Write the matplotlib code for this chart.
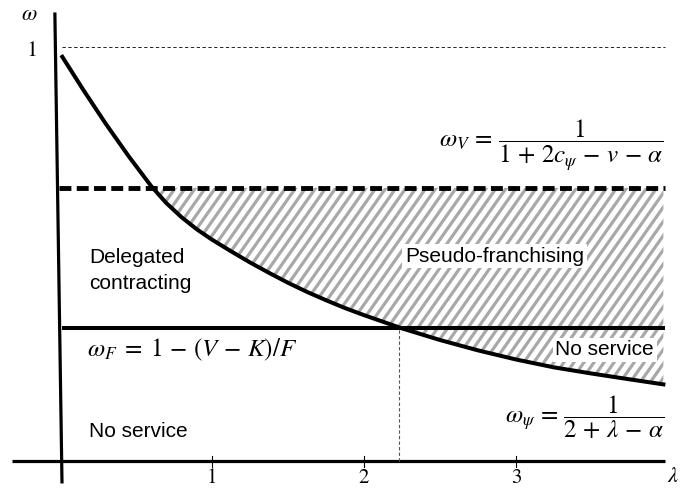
import matplotlib
matplotlib.use("Agg")
import matplotlib.pyplot as plt
import numpy as np
from matplotlib.collections import LineCollection

# Curve omega_psi (lambda, omega)
curve_lam = [0.015, 0.15, 0.30, 0.45, 0.60, 0.70, 0.80, 0.90, 1.00, 1.125, 1.25, 1.375,
             1.50, 1.625, 1.75, 1.875, 2.00, 2.25, 2.50, 2.75, 3.00, 3.25, 3.50, 3.75, 3.97]
curve_omega = [0.976, 0.898, 0.815, 0.737, 0.664, 0.623, 0.589, 0.560, 0.535, 0.507, 0.480, 0.455,
               0.431, 0.409, 0.389, 0.370, 0.353, 0.321, 0.293, 0.268, 0.246, 0.227, 0.212, 0.198, 0.186]

omega_V = 0.660      # dashed threshold
omega_F = 0.321      # solid threshold
lam_cross = 2.23     # where curve meets omega_F
lam_end = 3.98
x_ticks = [1, 2, 3]
x_tick_labels = ["1", "2", "3"]

plt.rcParams["font.family"] = ["Liberation Sans", "DejaVu Sans"]
plt.rcParams["mathtext.fontset"] = "stix"

fig = plt.figure(figsize=(6.81, 4.92), dpi=100)
ax = fig.add_axes([0, 0, 1, 1])
ax.set_xlim(-0.395, 4.086)
ax.set_ylim(-0.0736, 1.113)
ax.axis("off")

# hatched pseudo-franchising / no-service region (steep grey stripes)
region = ax.fill_between(curve_lam, curve_omega, omega_V,
                         where=[w < omega_V for w in curve_omega], interpolate=True,
                         facecolor="none", linewidth=0)
slope = 0.52          # stripe slope in data units (about 55 deg on screen)
starts = np.arange(-1.5, 4.2, 0.066)
segs = [[(s, 0.0), (s + 1.0 / slope, 1.0)] for s in starts]
stripes = LineCollection(segs, colors="#A8A8A8", linewidths=2.3)
ax.add_collection(stripes)
stripes.set_clip_path(region.get_paths()[0], ax.transData)

# axes
ax.plot([-0.316, lam_end], [0, 0], color="black", lw=2.3, solid_capstyle="butt")
ax.plot([-0.034, 0.013], [1.083, -0.053], color="black", lw=2.3, solid_capstyle="butt")
for t in x_ticks:
    ax.plot([t, t], [-0.014, 0.014], color="black", lw=0.8)
for t, lab in zip(x_ticks, x_tick_labels):
    ax.text(t, -0.04, lab, ha="center", va="center", fontsize=15, family="STIXGeneral")

# reference lines
ax.plot([0.01, lam_end], [1, 1], color="black", lw=0.6, ls=(0, (4, 3)))
ax.plot([-0.01, lam_end], [omega_V, omega_V], color="black", lw=3.5, ls=(0, (2.45, 1.1)))
ax.plot([0.01, lam_end], [omega_F, omega_F], color="black", lw=2.9, solid_capstyle="butt")
ax.plot([lam_cross, lam_cross], [0, omega_F], color="#555555", lw=0.8, ls=(0, (3, 2)))

# omega_psi curve
ax.plot(curve_lam, curve_omega, color="black", lw=2.9, solid_joinstyle="round")

# axis labels
ax.text(-0.2, 1.077, r"$\omega$", ha="center", va="center", fontsize=16)
ax.text(-0.185, 0.99, "1", ha="center", va="center", fontsize=16, family="STIXGeneral")
ax.text(4.03, -0.037, r"$\lambda$", ha="center", va="center", fontsize=16)

# formulas
ax.text(3.975, 0.764, r"$\omega_V\,=\,\dfrac{1}{1\,+\,2c_\psi\,-\,v\,-\,\alpha}$",
        ha="right", va="center", fontsize=18)
ax.text(3.975, 0.107, r"$\omega_\psi\,=\,\dfrac{1}{2\,+\,\lambda\,-\,\alpha}$",
        ha="right", va="center", fontsize=18)
ax.text(0.18, 0.269, r"$\omega_F\;=\;1\,-\,(V\,-\,K)/F$", ha="left", va="center", fontsize=18)

# region labels
ax.text(0.19, 0.461, "Delegated\ncontracting", ha="left", va="center", fontsize=15,
        linespacing=1.5)
ax.text(2.27, 0.495, "Pseudo-franchising", ha="left", va="center", fontsize=15,
        bbox=dict(facecolor="white", edgecolor="none", pad=2))
ax.text(3.26, 0.269, "No service", ha="left", va="center", fontsize=15,
        bbox=dict(facecolor="white", edgecolor="none", pad=2))
ax.text(0.19, 0.072, "No service", ha="left", va="center", fontsize=15)

fig.savefig("out.png", dpi=100)
